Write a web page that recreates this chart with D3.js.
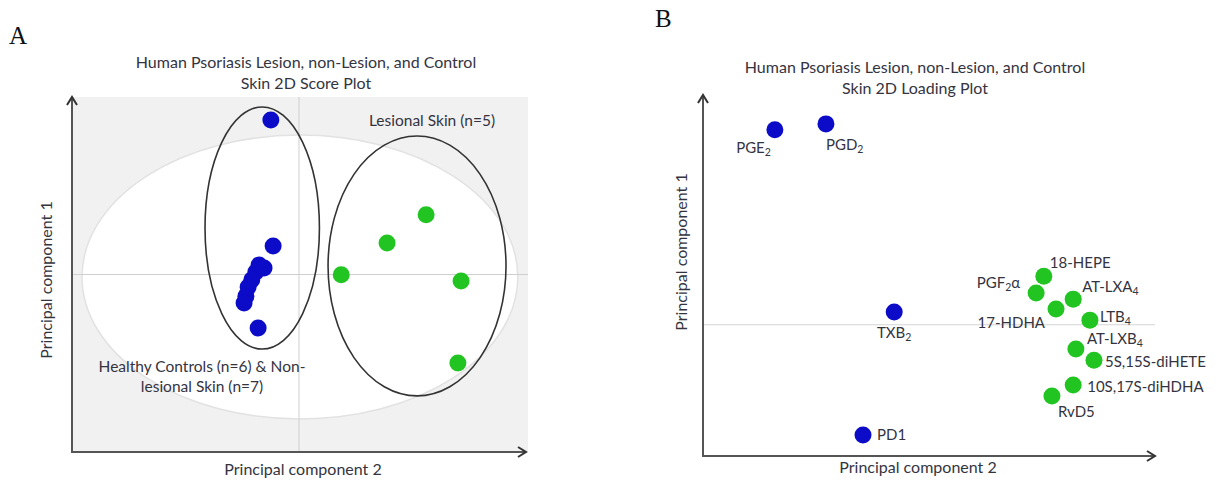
<!DOCTYPE html>
<html>
<head>
<meta charset="utf-8">
<script src="https://cdn.jsdelivr.net/npm/d3@7"></script>
<style>
  body { margin: 0; background: #fff; }
  svg text { font-family: Lato, "Open Sans", sans-serif; fill: #34343f; }
  svg text.panel { font-family: "Liberation Serif", "DejaVu Serif", serif; fill: #111; }
</style>
</head>
<body>
<svg id="chart" width="1218" height="483"></svg>
<script>
// ---- panel A: score plot (PC2 on x, PC1 on y, arbitrary units) ----
const controlPC2 = [-0.62, -0.57, -0.88, -0.77, -0.95, -1.04, -1.12, -1.17, -1.21, -0.90];
const controlPC1 = [4.35, 0.80, 0.27, 0.18, 0.07, -0.15, -0.35, -0.61, -0.80, -1.51];
const lesionPC2 = [0.93, 1.94, 2.80, 3.57, 3.50];
const lesionPC1 = [-0.01, 0.89, 1.68, -0.18, -2.49];

// confidence ellipses: [centre PC2, centre PC1, radius PC2, radius PC1]
const hotellingEllipse = [0.02, -0.07, 4.80, 4.00];
const controlEllipse = [-0.81, 1.31, 1.26, 3.41];
const lesionEllipse = [2.60, 0.24, 1.96, 3.66];

// ---- panel B: loading plot ----
const lipidNames = ["PGE{2}", "PGD{2}", "TXB{2}", "PD1", "18-HEPE", "PGF{2}α", "AT-LXA{4}", "17-HDHA",
                    "LTB{4}", "AT-LXB{4}", "5S,15S-diHETE", "10S,17S-diHDHA", "RvD5"];
const loadingPC2 = [-3.41, -2.28, -0.77, -1.46, 2.54, 2.37, 3.19, 2.81, 3.56, 3.25, 3.65, 3.19, 2.72];
const loadingPC1 = [5.94, 6.12, 0.39, -3.36, 1.48, 0.97, 0.78, 0.48, 0.14, -0.74, -1.08, -1.84, -2.17];
const loadingGroup = ["control", "control", "control", "control", "lesion", "lesion", "lesion", "lesion",
                      "lesion", "lesion", "lesion", "lesion", "lesion"];

const titleA = ["Human Psoriasis Lesion, non-Lesion, and Control", "Skin 2D Score Plot"];
const titleB = ["Human Psoriasis Lesion, non-Lesion, and Control", "Skin 2D Loading Plot"];

// label placement around each loading point (anchor, dx, dy)
const labelPlace = {
  "PGE{2}": ["end", -4, 23], "PGD{2}": ["start", 0, 26], "TXB{2}": ["middle", 0, 26],
  "PD1": ["start", 14, 5], "18-HEPE": ["start", 6, -8], "PGF{2}α": ["end", -16, -5],
  "AT-LXA{4}": ["start", 9, -7], "17-HDHA": ["end", -11, 19], "LTB{4}": ["start", 10, 2],
  "AT-LXB{4}": ["start", 11, -5], "5S,15S-diHETE": ["start", 11, 7],
  "10S,17S-diHDHA": ["start", 14, 7], "RvD5": ["start", 6, 21]
};

const colors = { control: "#0b0bc8", lesion: "#22c422" };
const svg = d3.select("#chart");

const defs = svg.append("defs");
defs.append("marker")
  .attr("id", "arrow")
  .attr("viewBox", "0 0 12 12")
  .attr("refX", 10).attr("refY", 6)
  .attr("markerWidth", 12).attr("markerHeight", 12)
  .attr("markerUnits", "userSpaceOnUse")
  .attr("orient", "auto")
  .append("path")
  .attr("d", "M2,1 L10,6 L2,11")
  .attr("fill", "none")
  .attr("stroke", "#333")
  .attr("stroke-width", 2);

// writes "XX{2}" as XX with a lowered small 2
function subText(sel, str, size) {
  const parts = str.split(/(\{[^}]*\})/).filter(p => p.length);
  let lowered = false;
  parts.forEach(p => {
    if (p[0] == "{") {
      sel.append("tspan").attr("font-size", size * 0.7).attr("dy", 3).text(p.slice(1, -1));
      lowered = true;
    } else {
      sel.append("tspan").attr("font-size", size).attr("dy", lowered ? -3 : 0).text(p);
      lowered = false;
    }
  });
}

function axes(g, x, y, xl, yl) {
  const x0 = x.range()[0], x1 = x.range()[1], y0 = y.range()[0], y1 = y.range()[1];
  g.append("line").attr("x1", x0).attr("x2", x0).attr("y1", y0 + 1).attr("y2", y1)
    .attr("stroke", "#555").attr("stroke-width", 2).attr("marker-end", "url(#arrow)");
  g.append("line").attr("x1", x0 - 1).attr("x2", x1).attr("y1", y0).attr("y2", y0)
    .attr("stroke", "#555").attr("stroke-width", 2).attr("marker-end", "url(#arrow)");
  g.append("text").attr("x", xl[0]).attr("y", xl[1]).attr("text-anchor", "middle")
    .attr("font-size", 16).text("Principal component 2");
  g.append("text").attr("transform", `translate(${yl[0]},${yl[1]}) rotate(-90)`)
    .attr("text-anchor", "middle").attr("font-size", 16).text("Principal component 1");
}

function title(g, lines, cx, y) {
  g.selectAll(".title").data(lines).join("text")
    .attr("class", "title")
    .attr("x", cx).attr("y", (d, i) => y + i * 21)
    .attr("text-anchor", "middle").attr("font-size", 16).text(d => d);
}

// ---------- panel A ----------
const gA = svg.append("g");
const xA = d3.scaleLinear().domain([-5, 5]).range([72, 526]);
const yA = d3.scaleLinear().domain([-5, 5]).range([452, 97]);

gA.append("text").attr("class", "panel").attr("x", 9).attr("y", 44)
  .attr("font-size", 25).text("A");
title(gA, titleA, 306, 68);

gA.append("rect").attr("x", xA(-5)).attr("y", yA(5))
  .attr("width", xA(5) - xA(-5) + 2).attr("height", yA(-5) - yA(5))
  .attr("fill", "#f1f1f1");

function ellipse(g, e, x, y, fill, stroke, w) {
  g.append("ellipse")
    .attr("cx", x(e[0])).attr("cy", y(e[1]))
    .attr("rx", x(e[2]) - x(0)).attr("ry", y(0) - y(e[3]))
    .attr("fill", fill).attr("stroke", stroke).attr("stroke-width", w);
}
ellipse(gA, hotellingEllipse, xA, yA, "#fff", "#e2e2e2", 1.5);

gA.append("line").attr("x1", xA(0)).attr("x2", xA(0)).attr("y1", yA(5)).attr("y2", yA(-5))
  .attr("stroke", "#cfcfcf").attr("stroke-width", 1);
gA.append("line").attr("x1", xA(-5)).attr("x2", xA(5) + 2).attr("y1", yA(0)).attr("y2", yA(0))
  .attr("stroke", "#cfcfcf").attr("stroke-width", 1);

ellipse(gA, controlEllipse, xA, yA, "none", "#333", 1.6);
ellipse(gA, lesionEllipse, xA, yA, "none", "#333", 1.6);

gA.selectAll(".ctl").data(d3.zip(controlPC2, controlPC1)).join("circle")
  .attr("class", "ctl").attr("cx", d => xA(d[0])).attr("cy", d => yA(d[1]))
  .attr("r", 8.5).attr("fill", colors.control);
gA.selectAll(".les").data(d3.zip(lesionPC2, lesionPC1)).join("circle")
  .attr("class", "les").attr("cx", d => xA(d[0])).attr("cy", d => yA(d[1]))
  .attr("r", 8.5).attr("fill", colors.lesion);

gA.append("text").attr("x", 432).attr("y", 126).attr("text-anchor", "middle")
  .attr("font-size", 15.5).text("Lesional Skin (n=5)");
gA.selectAll(".grp").data(["Healthy Controls (n=6) & Non-", "lesional Skin (n=7)"]).join("text")
  .attr("class", "grp").attr("x", 202).attr("y", (d, i) => 372 + i * 20)
  .attr("text-anchor", "middle").attr("font-size", 15.5).text(d => d);

axes(gA, xA, yA, [303, 475], [52, 280]);

// ---------- panel B ----------
const gB = svg.append("g");
const xB = d3.scaleLinear().domain([-5, 5]).range([703, 1155]);
const yB = d3.scaleLinear().domain([-4, 7]).range([456, 95]);

gB.append("text").attr("class", "panel").attr("x", 655).attr("y", 27)
  .attr("font-size", 25).text("B");
title(gB, titleB, 915, 73);

gB.append("line").attr("x1", xB(-5)).attr("x2", xB(5)).attr("y1", yB(0)).attr("y2", yB(0))
  .attr("stroke", "#d4d4d4").attr("stroke-width", 1.2);

const loadings = lipidNames.map((n, i) => ({ name: n, x: loadingPC2[i], y: loadingPC1[i], group: loadingGroup[i] }));

gB.selectAll(".pt").data(loadings).join("circle")
  .attr("class", "pt").attr("cx", d => xB(d.x)).attr("cy", d => yB(d.y))
  .attr("r", 8.5).attr("fill", d => colors[d.group]);

gB.selectAll(".lbl").data(loadings).join("text")
  .attr("class", "lbl")
  .attr("x", d => xB(d.x) + labelPlace[d.name][1])
  .attr("y", d => yB(d.y) + labelPlace[d.name][2])
  .attr("text-anchor", d => labelPlace[d.name][0])
  .each(function(d) { subText(d3.select(this), d.name, 15); });

axes(gB, xB, yB, [918, 473], [687, 252]);
</script>
</body>
</html>
